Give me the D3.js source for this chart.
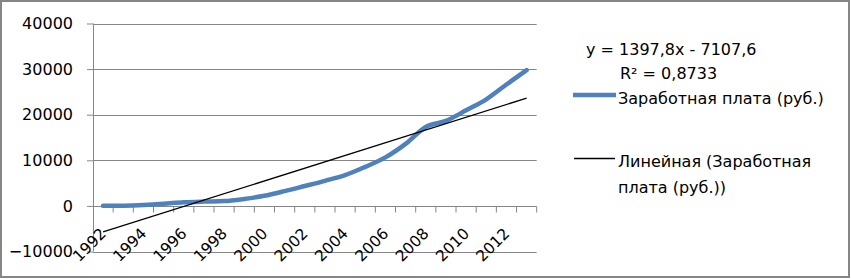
<!doctype html>
<html>
<head>
<meta charset="utf-8">
<script src="https://d3js.org/d3.v7.min.js"></script>
<style>
  body { margin: 0; background: #fff; }
  text { font-family: "DejaVu Sans", sans-serif; fill: #000; }
</style>
</head>
<body>
<script>
  // годы и средняя заработная плата (руб.)
  var years = [1992, 1993, 1994, 1995, 1996, 1997, 1998, 1999, 2000, 2001, 2002,
               2003, 2004, 2005, 2006, 2007, 2008, 2009, 2010, 2011, 2012, 2013];
  var wages = [6, 59, 220, 472, 790, 950, 1052, 1523, 2223, 3240, 4360,
               5499, 6740, 8555, 10634, 13593, 17290, 18638, 20952, 23369, 26629, 29792];
  var yTicks = [-10000, 0, 10000, 20000, 30000, 40000];
  var xLabels = [1992, 1994, 1996, 1998, 2000, 2002, 2004, 2006, 2008, 2010, 2012];
  // линия тренда: y = 1397,8x - 7107,6
  var trendCoef = [1397.8, -7107.6];
  var seriesName = "Заработная плата (руб.)";
  var trendName = ["Линейная (Заработная", "плата (руб.))"];

  var width = 851, height = 279;
  var gray = "#868686";

  var svg = d3.select("body").append("svg")
    .attr("width", width)
    .attr("height", height);

  // рамка диаграммы
  svg.append("rect")
    .attr("x", 1).attr("y", 1)
    .attr("width", 848).attr("height", 276)
    .attr("fill", "#fff")
    .attr("stroke", gray)
    .attr("stroke-width", 2);

  var x = d3.scaleBand().domain(years).range([93, 536.7]).padding(0);
  var y = d3.scaleLinear().domain([-10000, 40000]).range([251.5, 23.5]);
  var cx = function(d) { return x(d) + x.bandwidth() / 2; };

  // сетка + подписи оси Y
  var yAxis = svg.append("g")
    .attr("transform", "translate(93,0)")
    .call(d3.axisLeft(y).tickValues(yTicks).tickSize(6).tickPadding(14)
      .tickFormat(d3.format("d")));
  yAxis.select(".domain").remove();
  yAxis.selectAll("line").attr("stroke", gray);
  yAxis.selectAll("text").style("font-size", "16px").attr("font-family", null);

  svg.append("g").selectAll("line")
    .data(yTicks)
    .enter().append("line")
    .attr("x1", 93).attr("x2", 536.7)
    .attr("y1", function(d) { return Math.round(y(d)) + 0.5; })
    .attr("y2", function(d) { return Math.round(y(d)) + 0.5; })
    .attr("stroke", gray);
  yAxis.selectAll(".tick line")
    .attr("transform", function() { return "translate(0,0)"; });

  // вертикальная ось
  svg.append("line")
    .attr("x1", 93.5).attr("x2", 93.5)
    .attr("y1", y(40000)).attr("y2", y(-10000))
    .attr("stroke", gray);

  // горизонтальная ось на уровне 0 с засечками между категориями
  var y0 = Math.round(y(0)) + 0.5;
  var bounds = years.map(function(d) { return x(d); }).concat([x.range()[1]]);
  svg.append("g").selectAll("line")
    .data(bounds.slice(1))
    .enter().append("line")
    .attr("x1", function(d) { return d; }).attr("x2", function(d) { return d; })
    .attr("y1", y0).attr("y2", y0 + 6)
    .attr("stroke", gray);

  var xAxis = svg.append("g")
    .attr("transform", "translate(0," + y0 + ")")
    .call(d3.axisBottom(x).tickValues(xLabels).tickSize(0));
  xAxis.select(".domain").remove();
  xAxis.selectAll("text")
    .attr("font-family", null)
    .style("font-size", "15.5px")
    .attr("y", 0).attr("dy", 0)
    .attr("text-anchor", "end")
    .attr("transform", "translate(4,28) rotate(-45)");

  // ряд данных
  var line = d3.line()
    .x(function(d, i) { return cx(years[i]); })
    .y(function(d) { return y(d); })
    .curve(d3.curveMonotoneX);

  svg.append("path")
    .datum(wages)
    .attr("d", line)
    .attr("fill", "none")
    .attr("stroke", "#4F81BD")
    .attr("stroke-width", 4.5)
    .attr("stroke-linecap", "round")
    .attr("stroke-linejoin", "round");

  // линия тренда
  var tEnds = [1, years.length];
  svg.append("line")
    .attr("x1", cx(years[0]))
    .attr("y1", y(trendCoef[0] * tEnds[0] + trendCoef[1]))
    .attr("x2", cx(years[years.length - 1]))
    .attr("y2", y(trendCoef[0] * tEnds[1] + trendCoef[1]))
    .attr("stroke", "#000")
    .attr("stroke-width", 1.3);

  // подписи тренда
  var fmt = function(v) { return String(Math.abs(v)).replace(".", ","); };
  svg.append("text")
    .attr("x", 586).attr("y", 55)
    .style("font-size", "16px")
    .text("y = " + fmt(trendCoef[0]) + "x - " + fmt(trendCoef[1]));
  svg.append("text")
    .attr("x", 620).attr("y", 79)
    .style("font-size", "16px")
    .text("R² = 0,8733");

  // легенда
  svg.append("line")
    .attr("x1", 573).attr("x2", 616)
    .attr("y1", 95).attr("y2", 95)
    .attr("stroke", "#4F81BD")
    .attr("stroke-width", 4.5);
  svg.append("text")
    .attr("x", 618).attr("y", 104)
    .style("font-size", "16px")
    .text(seriesName);

  svg.append("line")
    .attr("x1", 574).attr("x2", 615)
    .attr("y1", 158.5).attr("y2", 158.5)
    .attr("stroke", "#000")
    .attr("stroke-width", 1.3);
  svg.append("g").selectAll("text")
    .data(trendName)
    .enter().append("text")
    .attr("x", 618)
    .attr("y", function(d, i) { return 166.5 + i * 26; })
    .style("font-size", "16px")
    .text(function(d) { return d; });
</script>
</body>
</html>
